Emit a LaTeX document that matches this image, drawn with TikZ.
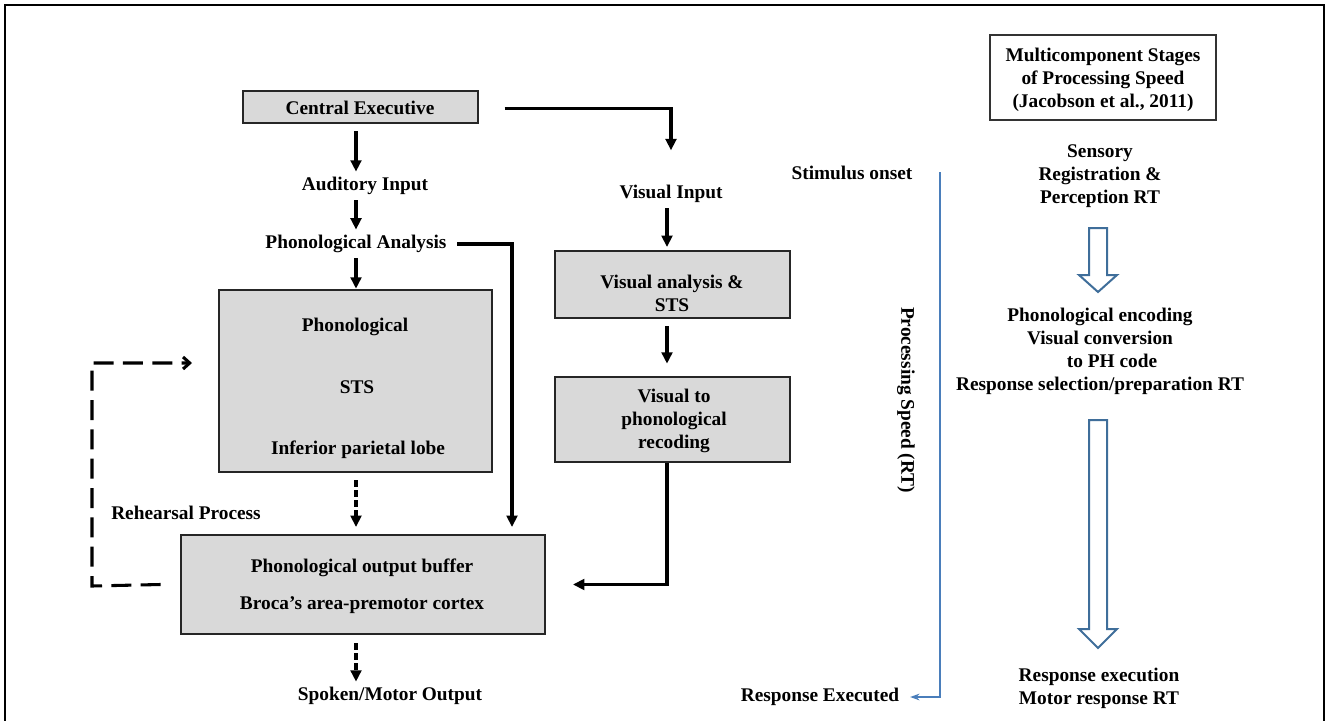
\documentclass[tikz,border=0pt]{standalone}
\usepackage{fontspec}
\setmainfont{Liberation Serif}
\usepackage{xcolor}
\usepackage{tikz}
\usetikzlibrary{arrows.meta, fit, calc}

\definecolor{boxgray}{HTML}{D9D9D9}
\definecolor{rtblue}{HTML}{4A7EBB}
\definecolor{stageblue}{HTML}{3F6E9A}

\begin{document}
\begin{tikzpicture}[x=0.75pt, y=-0.75pt,
  every node/.style={font=\fontsize{14.5}{17.25}\selectfont\bfseries},
  lbl/.style={inner sep=4pt, align=center},
  graybox/.style={draw=black!85, line width=2pt, fill=boxgray, inner sep=0pt},
  arr/.style={line width=2.3pt, -{Triangle[length=8.5pt,width=8pt]}},
  darr/.style={arr, dash pattern=on 5pt off 2.5pt},
  rehloop/.style={line width=2.3pt, dash pattern=on 15pt off 7pt, -{Straight Barb[length=5pt,width=9pt]}},
  rtline/.style={draw=rtblue, line width=1.3pt, -{Stealth[length=7pt,width=5pt]}},
  stage/.style={draw=stageblue, line width=1.5pt, fill=white, line join=miter}]
  \useasboundingbox (0,0) rectangle (1329,721);
  \draw[line width=2.2pt] (5,721) -- (5,5) -- (1324,5) -- (1324,721);

  % auditory route
  \node[graybox, fit={(243,91) (478,123)}] (ce) {};
  \node[lbl] (cetxt) at (360,108) {Central Executive};
  \node[lbl] (ai) at (365,186) {Auditory Input};
  \node[lbl] (pa) at (356,244) {Phonological Analysis};
  \node[graybox, fit={(219,290) (492,472)}] (phon) {};
  \node[lbl] (phtop) at (355,327) {Phonological};
  \node[lbl] (phmid) at (357,387) {STS};
  \node[lbl] (phbot) at (358,450) {Inferior parietal lobe};
  \node[graybox, fit={(181,535) (545,634)}] (pob) {};
  \node[lbl] (pobtop) at (362,568) {Phonological output buffer};
  \node[lbl] (pobbot) at (362,605) {Broca’s area-premotor cortex};
  \node[lbl] (smo) at (390,696) {Spoken/Motor Output};
  \node[lbl] (reh) at (186,513) {Rehearsal Process};

  % visual route
  \node[lbl] (vi) at (671,194) {Visual Input};
  \node[graybox, fit={(555,251) (790,318)}] (va) {};
  \node[lbl] (vatxt) at (672,293) {Visual analysis \&\\STS};
  \node[graybox, fit={(555,377) (790,462)}] (vpr) {};
  \node[lbl] (vprtxt) at (674,421) {Visual to\\phonological\\recoding};

  % processing speed
  \node[lbl] (so) at (852,173) {Stimulus onset};
  \node[lbl] (re) at (820,697) {Response Executed};
  \node[lbl, rotate=-90] (ps) at (906,400) {Processing Speed (RT)};
  \node[graybox, draw=black!80, line width=1.6pt, fill=white, fit={(990,35) (1216,120)}] (stages) {};
  \node[lbl] (stagestxt) at (1103,80) {Multicomponent Stages\\of Processing Speed\\(Jacobson et al., 2011)};
  \node[lbl] (sen) at (1100,176) {Sensory\\Registration \&\\Perception RT};
  \node[lbl] (enc) at (1100,351) {Phonological encoding\\Visual conversion\\\hspace*{18pt}to PH code\\Response selection/preparation RT};
  \node[lbl] (exe) at (1099,688) {Response execution\\Motor response RT};

  \coordinate (pacorner) at (512,239);
  \coordinate (looptop) at (92,363);
  \coordinate (loopbot) at (92,586);
  \coordinate (loopend) at (192,363);
  \coordinate (rttop) at (940,172);

  \draw[arr, shorten <=5pt] (ce.south -| pa) -- (ai.north -| pa);
  \draw[arr] (ai.south -| pa) -- (pa.north);
  \draw[arr] (pa.south) -- (phon.north -| pa);
  \draw[arr, shorten <=4pt, shorten >=5pt] (pa.east) -| (pacorner |- pob.north);
  \draw[darr, shorten <=5pt, shorten >=5pt] (phon.south -| pa) -- (pob.north -| pa);
  \draw[darr, shorten <=6pt] (pob.south -| pa) -- (smo.north -| pa);
  \draw[rehloop] (pob.west) ++(-19,0) -- (loopbot) -- (looptop) -- (loopend);

  \draw[arr, shorten >=22pt] ([xshift=19pt, yshift=-1pt]ce.east) -| (vi.north);
  \draw[arr, shorten >=2pt] (vi.south -| 667,0) -- (va.north -| 667,0);
  \draw[arr, shorten <=5pt, shorten >=9pt] (va.south -| 667,0) -- (vpr.north -| 667,0);
  \draw[arr, shorten >=20pt] (vpr.south -| 667,0) |- (pob.east);

  \draw[rtline, shorten >=4pt] (rttop) |- (re.east);

  \draw[stage] (1089,228) -- (1107,228) -- (1107,275) -- (1117,275) -- (1098,292)
    -- (1079,275) -- (1089,275) -- cycle;
  \draw[stage] (1089,420) -- (1107,420) -- (1107,629) -- (1117,629) -- (1098,648)
    -- (1079,629) -- (1089,629) -- cycle;
\end{tikzpicture}
\end{document}
